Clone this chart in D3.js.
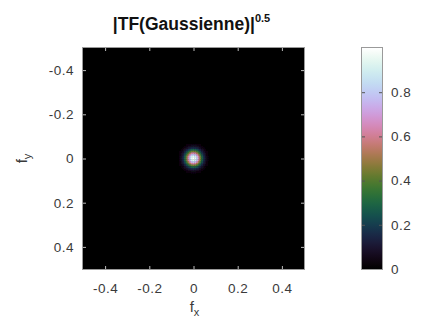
<!DOCTYPE html>
<html>
<head>
<meta charset="utf-8">
<script src="https://cdn.jsdelivr.net/npm/d3@7"></script>
<style>
  html, body { margin: 0; padding: 0; background: #fff; }
  svg { display: block; font-family: "Liberation Sans", Arial, sans-serif; }
</style>
</head>
<body>
<svg id="chart" width="435" height="327"></svg>
<script>
// ---- data ----
const titleMain = "|TF(Gaussienne)|";
const titleExp = "0.5";
const gridSize = 128;                    // FFT grid: frequencies k/128
const cellOffsets = d3.range(-8, 9);     // cell indices around f = 0 (columns / rows)
// |TF|^0.5 values for the cells around the centre (rows = fy, cols = fx); everything else is 0
const cellValues = [
  [0.00,0.00,0.01,0.01,0.02,0.03,0.03,0.04,0.04,0.04,0.03,0.03,0.02,0.01,0.01,0.00,0.00],
  [0.00,0.01,0.01,0.02,0.04,0.06,0.07,0.08,0.09,0.08,0.07,0.06,0.04,0.02,0.01,0.01,0.00],
  [0.01,0.01,0.03,0.05,0.07,0.11,0.14,0.16,0.17,0.16,0.14,0.11,0.07,0.05,0.03,0.01,0.01],
  [0.01,0.02,0.05,0.08,0.13,0.18,0.23,0.27,0.29,0.27,0.23,0.18,0.13,0.08,0.05,0.02,0.01],
  [0.02,0.04,0.07,0.13,0.20,0.29,0.37,0.43,0.45,0.43,0.37,0.29,0.20,0.13,0.07,0.04,0.02],
  [0.03,0.06,0.11,0.18,0.29,0.41,0.52,0.61,0.64,0.61,0.52,0.41,0.29,0.18,0.11,0.06,0.03],
  [0.03,0.07,0.14,0.23,0.37,0.52,0.67,0.78,0.82,0.78,0.67,0.52,0.37,0.23,0.14,0.07,0.03],
  [0.04,0.08,0.16,0.27,0.43,0.61,0.78,0.90,0.95,0.90,0.78,0.61,0.43,0.27,0.16,0.08,0.04],
  [0.04,0.09,0.17,0.29,0.45,0.64,0.82,0.95,1.00,0.95,0.82,0.64,0.45,0.29,0.17,0.09,0.04],
  [0.04,0.08,0.16,0.27,0.43,0.61,0.78,0.90,0.95,0.90,0.78,0.61,0.43,0.27,0.16,0.08,0.04],
  [0.03,0.07,0.14,0.23,0.37,0.52,0.67,0.78,0.82,0.78,0.67,0.52,0.37,0.23,0.14,0.07,0.03],
  [0.03,0.06,0.11,0.18,0.29,0.41,0.52,0.61,0.64,0.61,0.52,0.41,0.29,0.18,0.11,0.06,0.03],
  [0.02,0.04,0.07,0.13,0.20,0.29,0.37,0.43,0.45,0.43,0.37,0.29,0.20,0.13,0.07,0.04,0.02],
  [0.01,0.02,0.05,0.08,0.13,0.18,0.23,0.27,0.29,0.27,0.23,0.18,0.13,0.08,0.05,0.02,0.01],
  [0.01,0.01,0.03,0.05,0.07,0.11,0.14,0.16,0.17,0.16,0.14,0.11,0.07,0.05,0.03,0.01,0.01],
  [0.00,0.01,0.01,0.02,0.04,0.06,0.07,0.08,0.09,0.08,0.07,0.06,0.04,0.02,0.01,0.01,0.00],
  [0.00,0.00,0.01,0.01,0.02,0.03,0.03,0.04,0.04,0.04,0.03,0.03,0.02,0.01,0.01,0.00,0.00]
];
const xTicks = [-0.4, -0.2, 0, 0.2, 0.4];
const yTicks = [-0.4, -0.2, 0, 0.2, 0.4];
const colorTicks = [0, 0.2, 0.4, 0.6, 0.8];
const colorDomain = [0, 1];
const xLabel = "f", xSub = "x";
const yLabel = "f", ySub = "y";

// ---- layout ----
const plot = { left: 83, top: 48, width: 221, height: 221 };
const cbar = { left: 362, top: 48, width: 20, height: 221 };
const textColor = "#3a3a3a";
const frameColor = "#9a9a9a";
const tickFont = 13.5;

const svg = d3.select("#chart");

const x = d3.scaleLinear().domain([-0.5, 0.5]).range([plot.left, plot.left + plot.width]);
const y = d3.scaleLinear().domain([-0.5, 0.5]).range([plot.top, plot.top + plot.height]);
const color = d3.scaleSequential(d3.interpolateCubehelixDefault).domain(colorDomain);

defs = svg.append("defs");
defs.append("filter").attr("id", "soft").attr("x", "-20%").attr("y", "-20%")
  .attr("width", "140%").attr("height", "140%")
  .append("feGaussianBlur").attr("stdDeviation", 0.6);
defs.append("clipPath").attr("id", "plotclip").append("rect")
  .attr("x", plot.left).attr("y", plot.top)
  .attr("width", plot.width).attr("height", plot.height);

// background (value 0)
svg.append("rect")
  .attr("x", plot.left).attr("y", plot.top)
  .attr("width", plot.width).attr("height", plot.height)
  .attr("fill", color(0));

// cells
const cells = [];
cellValues.forEach((row, ri) => row.forEach((v, ci) => {
  cells.push({ fx: cellOffsets[ci] / gridSize, fy: cellOffsets[ri] / gridSize, v });
}));
const half = 0.5 / gridSize;
svg.append("g").attr("clip-path", "url(#plotclip)")
  .append("g").attr("filter", "url(#soft)")
  .selectAll("rect").data(cells).join("rect")
  .attr("x", d => x(d.fx - half))
  .attr("y", d => y(d.fy - half))
  .attr("width", d => x(d.fx + half) - x(d.fx - half) + 0.3)
  .attr("height", d => y(d.fy + half) - y(d.fy - half) + 0.3)
  .attr("fill", d => color(d.v));

// axes
function styleAxis(g) {
  g.select(".domain").remove();
  g.selectAll(".tick line").attr("stroke", "#bbb").attr("stroke-width", 1);
  g.selectAll(".tick text").attr("fill", textColor).attr("font-size", tickFont)
    .attr("letter-spacing", 0.5)
    .attr("font-family", "Liberation Sans, Arial, sans-serif");
}
const fmt = d => d === 0 ? "0" : d3.format(".1f")(d).replace("−", "-");

svg.append("g").attr("transform", `translate(0,${plot.top + plot.height})`)
  .call(d3.axisBottom(x).tickValues(xTicks).tickFormat(fmt).tickSize(-3).tickPadding(14))
  .call(styleAxis);
svg.append("g").attr("transform", `translate(0,${plot.top})`)
  .call(d3.axisTop(x).tickValues(xTicks).tickFormat("").tickSize(-3))
  .call(styleAxis);
svg.append("g").attr("transform", `translate(${plot.left},0)`)
  .call(d3.axisLeft(y).tickValues(yTicks).tickFormat(fmt).tickSize(-3).tickPadding(9))
  .call(styleAxis);
svg.append("g").attr("transform", `translate(${plot.left + plot.width},0)`)
  .call(d3.axisRight(y).tickValues(yTicks).tickFormat("").tickSize(-3))
  .call(styleAxis);

// frame
svg.append("rect")
  .attr("x", plot.left - 0.5).attr("y", plot.top - 0.5)
  .attr("width", plot.width + 1).attr("height", plot.height + 1)
  .attr("fill", "none").attr("stroke", frameColor).attr("stroke-width", 1);

// title
const title = svg.append("text")
  .attr("x", plot.left + plot.width / 2 - 2).attr("y", 30)
  .attr("text-anchor", "middle").attr("fill", "#111")
  .attr("font-size", 17.5).attr("font-weight", "bold");
title.append("tspan").text(titleMain);
title.append("tspan").attr("dy", -8).attr("font-size", 11).text(titleExp);

// x label
const xl = svg.append("text")
  .attr("x", plot.left + plot.width / 2 + 1).attr("y", 312)
  .attr("text-anchor", "middle").attr("fill", textColor).attr("font-size", 15);
xl.append("tspan").text(xLabel);
xl.append("tspan").attr("dy", 4).attr("font-size", 11).text(xSub);

// y label
const yl = svg.append("text")
  .attr("transform", `translate(27,${plot.top + plot.height / 2}) rotate(-90)`)
  .attr("text-anchor", "middle").attr("fill", textColor).attr("font-size", 15);
yl.append("tspan").text(yLabel);
yl.append("tspan").attr("dy", 4).attr("font-size", 11).text(ySub);

// colorbar
const cScale = d3.scaleLinear().domain(colorDomain).range([cbar.top + cbar.height, cbar.top]);
const grad = defs.append("linearGradient").attr("id", "cgrad")
  .attr("x1", 0).attr("y1", 1).attr("x2", 0).attr("y2", 0);
grad.selectAll("stop").data(d3.range(0, 1.0001, 0.02)).join("stop")
  .attr("offset", d => d)
  .attr("stop-color", d => color(colorDomain[0] + d * (colorDomain[1] - colorDomain[0])));
svg.append("rect")
  .attr("x", cbar.left).attr("y", cbar.top)
  .attr("width", cbar.width).attr("height", cbar.height)
  .attr("fill", "url(#cgrad)");

const cbAxis = svg.append("g").attr("transform", `translate(${cbar.left + cbar.width},0)`)
  .call(d3.axisRight(cScale).tickValues(colorTicks).tickFormat(fmt).tickSize(-3).tickPadding(9))
  .call(styleAxis);
cbAxis.selectAll(".tick line").attr("stroke", "#555");
svg.append("g").attr("transform", `translate(${cbar.left},0)`)
  .call(d3.axisLeft(cScale).tickValues(colorTicks).tickFormat("").tickSize(-3))
  .call(styleAxis)
  .selectAll(".tick line").attr("stroke", "#555");

svg.append("rect")
  .attr("x", cbar.left - 0.5).attr("y", cbar.top - 0.5)
  .attr("width", cbar.width + 1).attr("height", cbar.height + 1)
  .attr("fill", "none").attr("stroke", frameColor).attr("stroke-width", 1);
</script>
</body>
</html>
